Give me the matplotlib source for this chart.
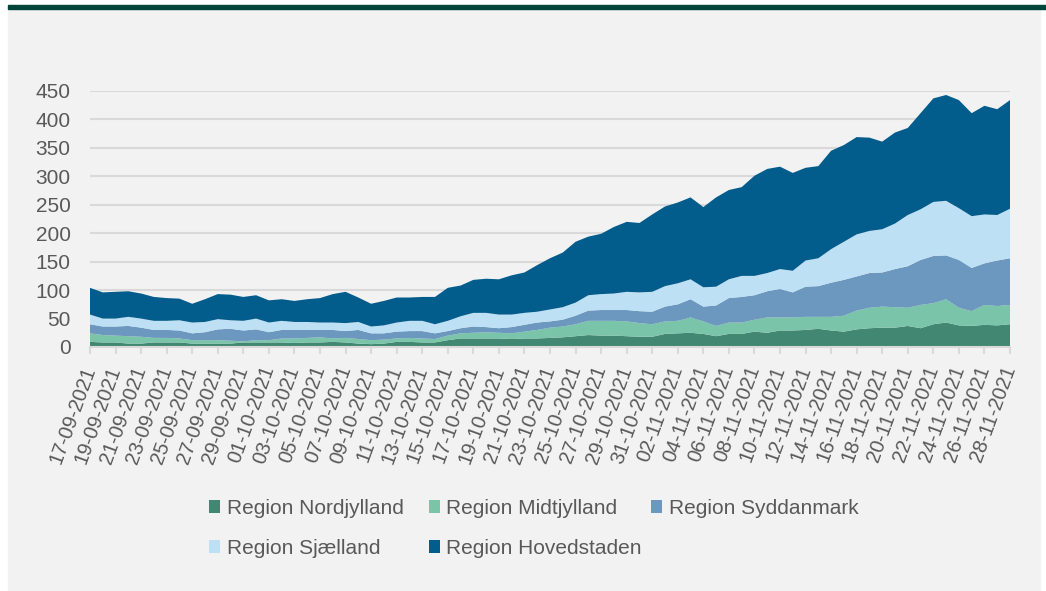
import numpy as np
import pandas as pd
import matplotlib
matplotlib.use("Agg")
import matplotlib.pyplot as plt
from matplotlib.patches import Rectangle

# daily values, 17-09-2021 .. 28-11-2021
dates = pd.date_range("2021-09-17", "2021-11-28", freq="D")

nordjylland = [9, 8, 8, 6, 6, 8, 8, 8, 6, 6, 6, 6, 8, 8, 8, 8, 7, 8, 8, 9,
               8, 6, 5, 6, 9, 9, 8, 8, 12, 15, 15, 15, 15, 14, 15, 15, 16, 17, 19, 21,
               20, 20, 19, 18, 18, 23, 24, 25, 23, 19, 23, 23, 27, 25, 29, 29, 30, 32, 29, 27,
               31, 33, 34, 34, 37, 33, 40, 43, 38, 37, 39, 38, 40]
midtjylland = [15, 13, 12, 13, 12, 8, 8, 7, 6, 6, 6, 5, 2, 4, 4, 7, 8, 8, 9, 6,
               8, 8, 7, 7, 6, 7, 7, 6, 8, 9, 10, 11, 10, 10, 12, 15, 18, 19, 21, 25,
               26, 26, 26, 24, 22, 22, 22, 27, 22, 18, 20, 20, 21, 27, 23, 23, 23, 21, 24, 28,
               33, 36, 37, 36, 32, 41, 37, 41, 31, 26, 35, 34, 34]
syddanmark = [16, 15, 16, 18, 16, 14, 14, 14, 12, 14, 19, 21, 19, 19, 14, 15, 15, 14, 13, 15,
              12, 16, 12, 11, 12, 12, 13, 10, 8, 9, 11, 9, 8, 11, 12, 13, 11, 12, 15, 18,
              19, 19, 20, 21, 22, 26, 29, 32, 26, 36, 43, 45, 43, 46, 50, 44, 53, 54, 60, 63,
              60, 61, 60, 67, 73, 79, 83, 77, 84, 76, 73, 80, 82]
sjaelland = [17, 14, 14, 16, 16, 16, 16, 18, 19, 18, 18, 15, 17, 19, 17, 16, 14, 14, 13, 13,
             14, 14, 12, 14, 16, 18, 18, 16, 18, 21, 24, 25, 24, 22, 21, 19, 21, 22, 23, 27,
             28, 29, 32, 33, 35, 36, 37, 35, 34, 33, 33, 37, 34, 32, 35, 38, 46, 49, 59, 67,
             74, 74, 76, 80, 90, 89, 95, 96, 91, 91, 86, 80, 87]
hovedstaden = [47, 46, 47, 45, 44, 42, 40, 38, 33, 40, 44, 45, 42, 41, 39, 38, 37, 40, 43, 50,
               55, 43, 40, 43, 44, 41, 42, 48, 58, 54, 58, 60, 62, 69, 71, 82, 90, 96, 107, 103,
               106, 117, 123, 122, 136, 140, 142, 144, 141, 157, 157, 156, 176, 183, 180, 172, 163, 162, 173, 170,
               171, 164, 154, 160, 153, 169, 182, 186, 190, 181, 191, 186, 191]

regions = ["Region Nordjylland", "Region Midtjylland", "Region Syddanmark",
           "Region Sjælland", "Region Hovedstaden"]
colors = ["#428772", "#7ac4aa", "#6c98bf", "#bde0f5", "#025c8c"]

plt.rcParams['font.family'] = ['Liberation Sans', 'DejaVu Sans']
W, H = 1046, 591
fig = plt.figure(figsize=(W / 100, H / 100), dpi=100)
fig.patch.set_facecolor("white")
# grey panel and dark rule at the top
fig.add_artist(Rectangle((8 / W, 0), (1040 - 8) / W, (H - 9) / H,
                         transform=fig.transFigure, color="#f2f2f2", zorder=-5))
fig.add_artist(Rectangle((8 / W, (H - 9) / H), 1 - 8 / W, 4 / H,
                         transform=fig.transFigure, color="#00443a", zorder=-5))

ax = fig.add_axes([90 / W, 1 - 347 / H, 920 / W, 256 / H])
ax.set_facecolor("#f2f2f2")

x = np.arange(len(dates))
polys = ax.stackplot(x, nordjylland, midtjylland, syddanmark, sjaelland, hovedstaden,
                     colors=colors, labels=regions, zorder=2)

ax.set_xlim(0, len(dates) - 1)
ax.set_ylim(0, 450)
ax.set_yticks(range(0, 451, 50))
ax.grid(axis="y", color="#d9d9d9", linewidth=1.5)
ax.set_axisbelow(True)
for s in ["top", "right", "left"]:
    ax.spines[s].set_visible(False)
ax.spines["bottom"].set_color("#d9d9d9")
ax.spines["bottom"].set_linewidth(1.5)
ax.spines["bottom"].set_zorder(3)

ax.tick_params(axis="y", length=0, pad=14, labelsize=15, labelcolor="#595959")
ax.set_xticks(x[::2])
ax.set_xticklabels(dates[::2].strftime("%d-%m-%Y"), rotation=70, ha="right",
                   va="center", rotation_mode="anchor")
ax.tick_params(axis="x", length=5, width=1.5, color="#d9d9d9", pad=9,
               labelsize=14.5, labelcolor="#595959")

# legend laid out row by row like the original (two legends to get column spacing)
leg_kw = dict(loc="upper left", frameon=False, fontsize=15, labelcolor="#595959",
              handlelength=0.55, handleheight=0.55, handletextpad=0.3,
              labelspacing=1.0, borderpad=0, borderaxespad=0)
order = [0, 3, 1, 4]
fig.legend([polys[i] for i in order], [regions[i] for i in order], ncol=2,
           bbox_to_anchor=(209 / W, 1 - 499 / H), columnspacing=1.2, **leg_kw)
fig.legend([polys[2]], [regions[2]], ncol=1,
           bbox_to_anchor=(651 / W, 1 - 499 / H), **leg_kw)

fig.savefig("out.png", dpi=100, facecolor=fig.get_facecolor())
